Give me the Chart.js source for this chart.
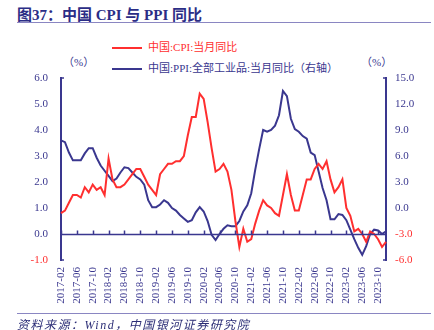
<!DOCTYPE html>
<html>
<head>
<meta charset="utf-8">
<script src="https://cdn.jsdelivr.net/npm/chart.js@4.4.1/dist/chart.umd.min.js"></script>
<style>
  body { margin: 0; background: #fff; }
  #wrap { position: relative; width: 434px; height: 330px; font-family: "Liberation Serif", "Noto Sans CJK SC", serif; }
  #chart { position: absolute; left: 0; top: 0; }
  .title { position: absolute; left: 17px; top: 3px; font-size: 15px; font-weight: bold; color: #2b2d86; white-space: nowrap; }
  .rule { position: absolute; left: 17px; right: 3px; height: 1px; background: #8a86c2; }
  .legend { position: absolute; left: 112px; font-size: 11px; white-space: nowrap; line-height: 14px; }
  .legend i { display: inline-block; width: 30px; height: 2px; vertical-align: middle; margin-right: 6px; }
  .unit { position: absolute; top: 53px; font-size: 11px; color: #3a378f; }
  .source { position: absolute; left: 17px; top: 315px; font-size: 12px; font-style: italic; color: #2b2d76; letter-spacing: 1.5px; white-space: nowrap; }
</style>
</head>
<body>
<div id="wrap">
  <div class="title">图37：中国 CPI 与 PPI 同比</div>
  <div class="rule" style="top:22px"></div>
  <div class="legend" style="top:40px;color:#ff2f2f"><i style="background:#ff2f2f"></i>中国:CPI:当月同比</div>
  <div class="legend" style="top:61px;color:#3a378f"><i style="background:#3a378f"></i>中国:PPI:全部工业品:当月同比（右轴）</div>
  <div class="unit" style="left:63px">（%）</div>
  <div class="unit" style="left:361px">（%）</div>
  <canvas id="chart" width="434" height="330"></canvas>
  <div class="rule" style="top:313px"></div>
  <div class="source">资料来源：Wind，中国银河证券研究院</div>
</div>
<script>
const RED = '#ff2f2f';
const NAVY = '#3a378f';

// monthly categories 2017-02 .. 2023-12
const months = [];
for (let y = 2017; y <= 2023; y++) {
  for (let m = (y === 2017 ? 2 : 1); m <= 12; m++) {
    months.push(y + '-' + String(m).padStart(2, '0'));
  }
}

// CPI yoy, %
const cpi = [
  0.8, 0.9, 1.2, 1.5, 1.5, 1.4, 1.8, 1.6, 1.9, 1.7, 1.8,
  1.5, 2.9, 2.1, 1.8, 1.8, 1.9, 2.1, 2.3, 2.5, 2.5, 2.2, 1.9,
  1.7, 1.5, 2.3, 2.5, 2.7, 2.7, 2.8, 2.8, 3.0, 3.8, 4.5, 4.5,
  5.4, 5.2, 4.3, 3.3, 2.4, 2.5, 2.7, 2.4, 1.7, 0.5, -0.5, 0.2,
  -0.3, -0.2, 0.4, 0.9, 1.3, 1.1, 1.0, 0.8, 0.7, 1.5, 2.3, 1.5,
  0.9, 0.9, 1.5, 2.1, 2.1, 2.5, 2.7, 2.5, 2.8, 2.1, 1.6, 1.8,
  2.1, 1.0, 0.7, 0.1, 0.2, 0.0, -0.3, 0.1, 0.0, -0.2, -0.5, -0.3
];

// PPI (all industrial products) yoy, %, right axis
const ppi = [
  7.8, 7.6, 6.4, 5.5, 5.5, 5.5, 6.3, 6.9, 6.9, 5.8, 4.9,
  4.3, 3.7, 3.1, 3.4, 4.1, 4.7, 4.6, 4.1, 3.6, 3.3, 2.7, 0.9,
  0.1, 0.1, 0.4, 0.9, 0.6, 0.0, -0.3, -0.8, -1.2, -1.6, -1.4, -0.5,
  0.1, -0.4, -1.5, -3.1, -3.7, -3.0, -2.4, -2.0, -2.1, -2.1, -1.5, -0.4,
  0.3, 1.7, 4.4, 6.8, 9.0, 8.8, 9.0, 9.5, 10.7, 13.5, 12.9, 10.3,
  9.1, 8.8, 8.3, 8.0, 6.4, 6.1, 4.2, 2.3, 0.9, -1.3, -1.3, -0.7,
  -0.8, -1.4, -2.5, -3.6, -4.6, -5.4, -4.4, -3.0, -2.5, -2.6, -3.0, -2.7
];

const tickFont = { family: '"Liberation Serif", serif', size: 11 };

// zero line with month stubs, plus the little end ticks on both value axes
const axisMarks = {
  id: 'axisMarks',
  afterDatasetsDraw(chart) {
    const { ctx, chartArea: a, scales } = chart;
    const y0 = Math.round(scales.y.getPixelForValue(0)) + 0.5;
    ctx.save();
    ctx.strokeStyle = NAVY;
    ctx.lineWidth = 1.5;
    ctx.beginPath();
    ctx.moveTo(a.left, y0);
    ctx.lineTo(a.right, y0);
    for (let i = 0; i < months.length; i += 4) {
      const x = Math.round(scales.x.getPixelForValue(i)) + 0.5;
      ctx.moveTo(x, y0);
      ctx.lineTo(x, y0 - 4);
    }
    [a.top, a.bottom].forEach(yy => {
      ctx.moveTo(a.left, yy);
      ctx.lineTo(a.left + 3, yy);
      ctx.moveTo(a.right, yy);
      ctx.lineTo(a.right - 3, yy);
    });
    ctx.stroke();
    ctx.restore();
  }
};

new Chart(document.getElementById('chart'), {
  type: 'line',
  data: {
    labels: months,
    datasets: [
      { label: '中国:CPI:当月同比', data: cpi, yAxisID: 'y', borderColor: RED, borderWidth: 2, pointRadius: 0, tension: 0 },
      { label: '中国:PPI:全部工业品:当月同比（右轴）', data: ppi, yAxisID: 'y1', borderColor: NAVY, borderWidth: 2, pointRadius: 0, tension: 0 }
    ]
  },
  options: {
    responsive: false,
    animation: false,
    layout: { padding: { top: 78, left: 0, right: 0, bottom: 0 } },
    plugins: { legend: { display: false }, tooltip: { enabled: false } },
    scales: {
      x: {
        offset: false,
        grid: { display: false, drawTicks: false },
        border: { display: false },
        ticks: {
          autoSkip: false, minRotation: 90, maxRotation: 90, padding: 7,
          color: NAVY, font: tickFont,
          callback: (v, i) => (i % 4 === 0 ? months[i] : '')
        },
        afterFit: s => { s.height = 70; }
      },
      y: {
        position: 'left', min: -1, max: 6,
        grid: { display: false, drawTicks: false },
        border: { color: NAVY, width: 2 },
        ticks: {
          stepSize: 1, padding: 13, font: tickFont,
          color: c => (c.tick.value < 0 ? RED : NAVY),
          callback: v => v.toFixed(1)
        },
        afterFit: s => { s.width = 61; }
      },
      y1: {
        position: 'right', min: -6, max: 15,
        grid: { display: false, drawTicks: false },
        border: { color: NAVY, width: 2 },
        ticks: {
          stepSize: 3, padding: 9, font: tickFont,
          color: c => (c.tick.value < 0 ? RED : NAVY),
          callback: v => v.toFixed(1)
        },
        afterFit: s => { s.width = 48; }
      }
    }
  },
  plugins: [axisMarks]
});
</script>
</body>
</html>
